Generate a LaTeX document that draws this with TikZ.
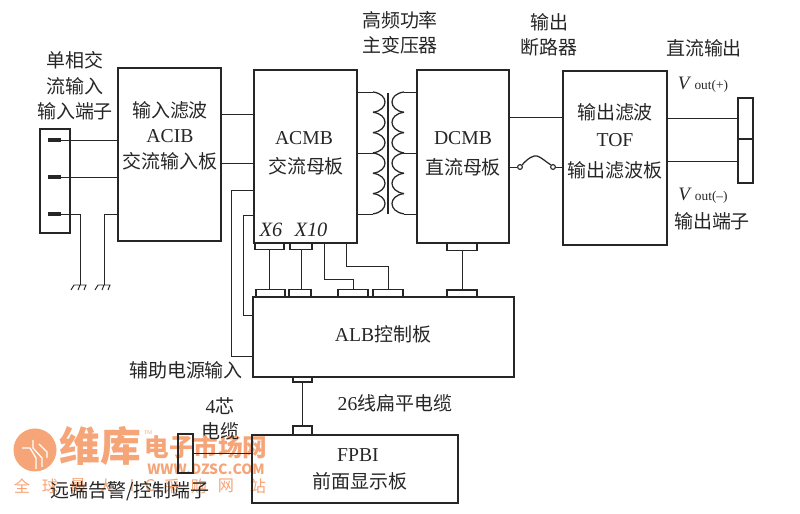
\documentclass[tikz,border=0pt]{standalone}
\usepackage{fontspec}
\setmainfont{Liberation Serif}
\newfontfamily\cjk{Noto Sans CJK SC}
\usetikzlibrary{arrows.meta,positioning}
\definecolor{ink}{RGB}{38,38,38}
\definecolor{mark}{RGB}{245,165,120}
\newcommand{\coilr}[1]{(373,#1) .. controls (389,#1+2) and (389,#1+18) .. (373,#1+20.3)}
\newcommand{\coill}[1]{(404,#1) .. controls (388,#1+2) and (388,#1+18) .. (404,#1+20.3)}
\tikzset{
  box/.style={draw=ink, line width=1.1pt, inner sep=0pt},
  conn/.style={draw=ink, line width=0.8pt, inner sep=0pt, minimum height=1.75mm},
  wire/.style={draw=ink, line width=0.7pt},
  cn/.style={text=ink, align=center, inner sep=0pt, font=\cjk\fontsize{13.5}{18}\selectfont},
  lat/.style={text=ink, align=center, inner sep=0pt, font=\fontsize{14}{18}\selectfont},
  wm/.style={text=mark, inner sep=0pt, font=\cjk\bfseries\fontsize{17.5}{22}\selectfont},
  gnd/.pic={\draw[wire] (-9,5) -- (-6,0) -- (6,0) -- (4,5) (0,0) -- (-2,5);},
}

\begin{document}
\begin{tikzpicture}[x=0.25mm, y=-0.25mm]
  \useasboundingbox (0,0) rectangle (800,514);

  \node[circle, fill=mark, minimum size=10.75mm, inner sep=0pt] (logo) at (35,450) {};
  \draw[white, line width=0.9pt] (22,448) -- (30,448) -- (36,458) -- (36,469)
    (33,440) -- (33,448) -- (42,458) -- (42,467) (39,444) -- (47,452) -- (47,458);
  \node[wm, font=\cjk\bfseries\fontsize{29}{30}\selectfont] (wmbig) at (100,446) {维库};
  \node[wm] (wmshop) at (206,447) {电子市场网};
  \node[wm, font=\cjk\bfseries\fontsize{10}{12}\selectfont] (wmurl) at (206,469) {WWW.DZSC.COM};
  \node[wm, font=\fontsize{4}{5}\selectfont] (wmtm) at (148,433) {TM};
  \foreach \wx/\wc in {22/全,50/球,78/最,106/大,132/I,150/C,172/采,199/购,226/网,258/站}
    \node[wm, font=\cjk\fontsize{11.5}{13}\selectfont] (wmc\wx) at (\wx,486) {\wc};

  \node[box, minimum width=25.75mm, minimum height=43.25mm] (acib) at (169.5,154.5) {};
  \node[box, minimum width=25.75mm, minimum height=43.25mm] (acmb) at (305.5,156.5) {};
  \node[box, minimum width=23mm, minimum height=43.25mm] (dcmb) at (463,156.5) {};
  \node[box, minimum width=26mm, minimum height=43.5mm] (tof) at (615,158) {};
  \node[box, minimum width=65.25mm, minimum height=20mm] (alb) at (383.5,337) {};
  \node[box, minimum width=51.5mm, minimum height=17mm] (fpbi) at (355,469) {};

  \node[box, minimum width=7.5mm, minimum height=26mm] (intb) at (55,181) {};
  \node[fill=ink, minimum width=3.25mm, minimum height=0.8mm, inner sep=0pt] (pina) at (54.5,140) {};
  \node[fill=ink, minimum width=3.25mm, minimum height=0.8mm, inner sep=0pt] (pinb) at (54.5,177) {};
  \node[fill=ink, minimum width=3.25mm, minimum height=0.8mm, inner sep=0pt] (pinc) at (54.5,214) {};
  \coordinate (gnda) at (80,285);
  \coordinate (gndb) at (104,285);
  \coordinate (acibc) at (118,214);
  \draw[wire] (pina) -- (acib.west |- pina);
  \draw[wire] (pinb) -- (acib.west |- pinb);
  \draw[wire] (pinc) -| (gnda);
  \draw[wire] (acibc) -| (gndb);
  \pic at (gnda) {gnd};
  \pic at (gndb) {gnd};

  \coordinate (acua) at (254,114);
  \coordinate (acub) at (254,163);
  \draw[wire] (acib.east |- acua) -- (acua);
  \draw[wire] (acib.east |- acub) -- (acub);

  \coordinate (auxa) at (254,190);
  \coordinate (auxb) at (253,215);
  \coordinate (auxc) at (253,356);
  \coordinate (auxd) at (253,315);
  \draw[wire] (auxa) -- (231,190) -- (231,356) -- (auxc);
  \draw[wire] (auxb) -- (243,215) -- (243,315) -- (auxd);

  \coordinate (pritop) at (357,92);
  \coordinate (primid) at (357,153);
  \coordinate (pribot) at (357,214);
  \coordinate (sectop) at (417,92);
  \coordinate (secmid) at (417,153);
  \coordinate (secbot) at (417,214);
  \draw[wire] (pritop) -- (373,92);
  \draw[wire] (primid) -- (373,153);
  \draw[wire] (pribot) -- (373,214);
  \draw[wire] (sectop) -- (404,92);
  \draw[wire] (secmid) -- (404,153);
  \draw[wire] (secbot) -- (404,214);
  \foreach \cy in {92,112.3,132.6,153,173.3,193.6} {
    \draw[wire, line width=0.9pt] \coilr{\cy};
    \draw[wire, line width=0.9pt] \coill{\cy};
  }
  \draw[draw=ink, line width=1.4pt] (388,93) -- (388,214);

  \coordinate (dcup) at (509,117);
  \coordinate (dcdn) at (509,167);
  \node[circle, draw=ink, line width=0.8pt, minimum size=1.2mm, inner sep=0pt] (brka) at (520,167) {};
  \node[circle, draw=ink, line width=0.8pt, minimum size=1.2mm, inner sep=0pt] (brkb) at (553,167) {};
  \draw[wire] (dcup) -- (tof.west |- dcup);
  \draw[wire] (dcdn) -- (brka);
  \draw[wire, line width=0.9pt] (brka.north east) .. controls (528,158) and (534,155) .. (537,156) .. controls (541,157) and (546,162) .. (brkb.north west);
  \draw[wire] (brkb) -- (tof.west |- brkb);

  \node[box, line width=0.9pt, minimum width=3.75mm, minimum height=10.25mm] (outa) at (745.5,118.5) {};
  \node[box, line width=0.9pt, minimum width=3.75mm, minimum height=11mm] (outb) at (745.5,161) {};
  \draw[wire] (tof.east |- outa) -- (outa);
  \draw[wire] (tof.east |- outb) -- (outb);

  \node[conn, minimum width=7.25mm] (xsixa) at (269.5,246) {};
  \node[conn, minimum width=5.5mm] (xtena) at (301,246) {};
  \node[conn, minimum width=7.5mm] (dca) at (462,247) {};
  \node[conn, minimum width=7.25mm] (xsixb) at (270.5,293) {};
  \node[conn, minimum width=5.5mm] (xtenb) at (300,293) {};
  \node[conn, minimum width=7.5mm] (albc) at (353,293) {};
  \node[conn, minimum width=7.5mm] (albd) at (388,293) {};
  \node[conn, minimum width=7.5mm] (dcb) at (462,293.5) {};
  \draw[wire] (xsixa.south) -- (xsixa.south |- xsixb.north);
  \draw[wire] (xtena.south) -- (xtena.south |- xtenb.north);
  \draw[wire] (dca.south) -- (dcb.north);
  \coordinate (wirec) at (324,243);
  \coordinate (wired) at (346,243);
  \draw[wire] (wirec) -- +(0,36) -| (albc.north);
  \draw[wire] (wired) -- +(0,23) -| (albd.north);

  \node[conn, minimum width=4.75mm, minimum height=1.25mm] (albe) at (302.5,379.5) {};
  \node[conn, minimum width=4.75mm, minimum height=2.25mm] (fpa) at (302.5,430.5) {};
  \draw[wire] (albe.south) -- (fpa.north);

  \node[box, line width=0.9pt, minimum width=3.75mm, minimum height=9.75mm] (rem) at (185.5,453.5) {};
  \draw[wire] (rem) -- (fpbi.west |- rem);

  \node[cn] (tin) at (75,86) {单相交\\流输入\\输入端子};
  \node[cn] (tacib) at (170,110) {输入滤波};
  \node[lat] (nacib) at (170,136) {ACIB};
  \node[cn] (cacib) at (170,161) {交流输入板};
  \node[lat] (nacmb) at (304,138) {ACMB};
  \node[cn] (cacmb) at (306,166) {交流母板};
  \node[lat, font=\itshape\fontsize{14.5}{18}\selectfont] (xsix) at (271,230) {X6};
  \node[lat, font=\itshape\fontsize{14.5}{18}\selectfont] (xten) at (311,230) {X10};
  \node[lat] (ndcmb) at (463,138) {DCMB};
  \node[cn] (cdcmb) at (463,167) {直流母板};
  \node[cn] (ttr) at (400,33) {高频功率\\主变压器};
  \node[cn] (tbrk) at (549,35) {输出\\断路器};
  \node[cn] (tdc) at (704,48) {直流输出};
  \node[lat, font=\fontsize{13.5}{18}\selectfont] (vplus) at (703,85) {\textit{V}\,{\fontsize{9.5}{10}\selectfont out(+)}};
  \node[lat, font=\fontsize{13.5}{18}\selectfont] (vminus) at (703,196) {\textit{V}\,{\fontsize{9.5}{10}\selectfont out(--)}};
  \node[cn] (tend) at (712,221) {输出端子};
  \node[cn] (ttof) at (615,112) {输出滤波};
  \node[lat] (ntof) at (615,140) {TOF};
  \node[cn] (ctof) at (615,170) {输出滤波板};
  \node[lat] (nalb) at (383,334) {ALB{\cjk\fontsize{13.5}{18}\selectfont 控制板}};
  \node[cn] (taux) at (186,370) {辅助电源输入};
  \node[lat] (tcab) at (395,403) {26{\cjk\fontsize{13.5}{18}\selectfont 线扁平电缆}};
  \node[lat] (tfour) at (220,419) {4{\cjk\fontsize{13.5}{18}\selectfont 芯}\\{\cjk\fontsize{13.5}{18}\selectfont 电缆}};
  \node[lat] (nfp) at (358,455) {FPBI};
  \node[cn] (cfp) at (360,481) {前面显示板};
  \node[cn] (trem) at (130,491) {远端告警/控制端子};
\end{tikzpicture}
\end{document}
